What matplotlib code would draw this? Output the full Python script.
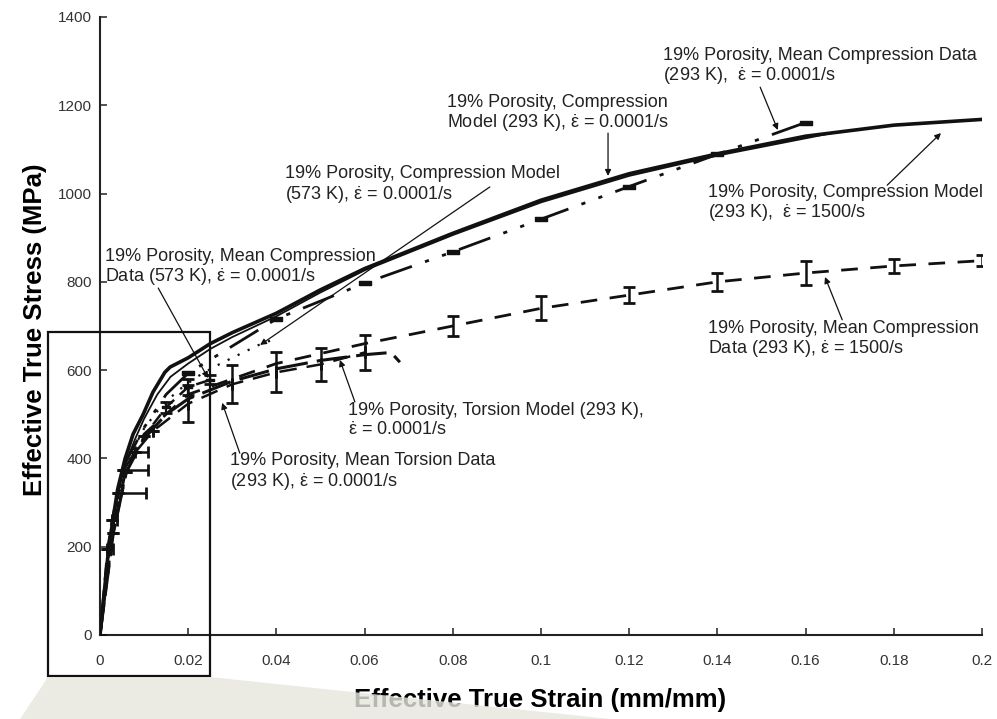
import matplotlib
matplotlib.use("Agg")
import matplotlib.pyplot as plt
from matplotlib.patches import Rectangle, Polygon
from matplotlib.markers import MarkerStyle
from matplotlib.path import Path

plt.rcParams["font.family"] = ["Liberation Sans", "DejaVu Sans"]
plt.rcParams["mathtext.fontset"] = "custom"
plt.rcParams["mathtext.rm"] = "Liberation Sans"
plt.rcParams["mathtext.it"] = "Liberation Sans"

# compression model, 293 K, 1500/s
model_1500_strain = [0, 0.002, 0.004, 0.0057, 0.0075, 0.0098, 0.012, 0.0147, 0.0159, 0.020, 0.025,
                     0.030, 0.040, 0.050, 0.060, 0.080, 0.100, 0.120, 0.140, 0.160, 0.180, 0.200]
model_1500_stress = [0, 200, 330, 400, 455, 500, 550, 595, 607, 628, 660,
                     685, 729, 782, 830, 910, 985, 1045, 1090, 1130, 1155, 1168]

# compression model, 293 K, 0.0001/s
model_293_strain = [0, 0.002, 0.004, 0.006, 0.008, 0.010, 0.013, 0.016, 0.020, 0.025, 0.030,
                    0.040, 0.050, 0.060, 0.080, 0.100, 0.120, 0.140, 0.166]
model_293_stress = [0, 195, 320, 395, 445, 490, 545, 585, 615, 648, 675,
                    722, 776, 826, 906, 980, 1040, 1086, 1137]

# compression model, 573 K, 0.0001/s
model_573_strain = [0, 0.002, 0.004, 0.006, 0.008, 0.010, 0.014, 0.018, 0.022, 0.026, 0.030, 0.036, 0.040]
model_573_stress = [0, 180, 310, 380, 430, 468, 520, 556, 585, 608, 628, 657, 672]

# mean compression data, 293 K, 0.0001/s
comp_293_strain = [0, 0.003, 0.006, 0.010, 0.015, 0.020, 0.040, 0.060, 0.080, 0.100, 0.120, 0.140, 0.160]
comp_293_stress = [0, 250, 395, 470, 545, 593, 716, 797, 868, 942, 1016, 1089, 1161]
comp_293_marked = [5, 6, 7, 8, 9, 10, 11, 12]

# mean compression data, 293 K, 1500/s
comp_1500_strain = [0, 0.003, 0.006, 0.010, 0.020, 0.040, 0.060, 0.080, 0.100, 0.120, 0.140, 0.160, 0.180, 0.200]
comp_1500_stress = [0, 240, 380, 455, 545, 615, 660, 700, 740, 770, 800, 820, 836, 848]
comp_1500_bar_strain = [0.080, 0.100, 0.120, 0.140, 0.160, 0.180, 0.200]
comp_1500_bar_stress = [700, 740, 770, 800, 820, 836, 848]
comp_1500_bar_err = [22, 27, 18, 20, 27, 15, 13]

# mean compression data, 573 K, 0.0001/s
comp_573_strain = [0, 0.003, 0.006, 0.010, 0.015, 0.020, 0.025]
comp_573_stress = [0, 230, 370, 450, 516, 562, 578]
comp_573_err = [0, 0, 0, 0, 12, 18, 10]

# torsion model, 293 K, 0.0001/s
torsion_model_strain = [0, 0.003, 0.006, 0.010, 0.015, 0.020, 0.030, 0.040, 0.050, 0.060, 0.066, 0.068]
torsion_model_stress = [0, 230, 370, 445, 500, 535, 575, 603, 622, 635, 640, 618]

# mean torsion data, 293 K, 0.0001/s
torsion_strain = [0, 0.0017, 0.0027, 0.0040, 0.0053, 0.0080, 0.012, 0.020, 0.030, 0.040, 0.050, 0.060]
torsion_stress = [0, 194, 260, 322, 373, 414, 462, 524, 568, 595, 613, 640]
torsion_xerr_hi = [0, 0.0012, 0.0012, 0.0065, 0.0055, 0.0028, 0, 0, 0, 0, 0, 0]
torsion_yerr = [0, 0, 0, 0, 0, 0, 0, 42, 43, 45, 37, 40]

xticks = [0, 0.02, 0.04, 0.06, 0.08, 0.1, 0.12, 0.14, 0.16, 0.18, 0.2]
xticklabels = ["0", "0.02", "0.04", "0.06", "0.08", "0.1", "0.12", "0.14", "0.16", "0.18", "0.2"]
yticks = [0, 200, 400, 600, 800, 1000, 1200, 1400]

INK = "#111111"
EPS = r"$\dot{\mathrm{\varepsilon}}$"

fig = plt.figure(figsize=(9.97, 7.19), dpi=100)
ax = fig.add_axes([100 / 997, 1 - 635 / 719, 882 / 997, 618 / 719])

bar = MarkerStyle(Path([(-1.6, -0.55), (1.6, -0.55), (1.6, 0.55), (-1.6, 0.55), (-1.6, -0.55)]))

ax.plot(model_1500_strain, model_1500_stress, color=INK, lw=2.6, zorder=5)
ax.plot(model_293_strain, model_293_stress, color=INK, lw=1.3, zorder=5)
ax.plot(model_573_strain, model_573_stress, color=INK, lw=1.6, ls=(0, (1, 4)), zorder=4)
ax.plot(comp_293_strain, comp_293_stress, color=INK, lw=2.0, ls=(0, (12, 5, 1.5, 5, 1.5, 5)),
        marker=bar, markevery=comp_293_marked, ms=9, mfc=INK, mec=INK, zorder=4)
ax.plot(comp_1500_strain, comp_1500_stress, color=INK, lw=2.0, ls=(0, (6, 4.5)), zorder=3)
ax.errorbar(comp_1500_bar_strain, comp_1500_bar_stress, yerr=comp_1500_bar_err, fmt="none",
            ecolor=INK, elinewidth=1.8, capsize=4, capthick=2, zorder=3)
ax.errorbar(comp_573_strain, comp_573_stress, yerr=comp_573_err, color=INK, lw=1.8,
            ls=(0, (5, 3)), marker=bar, markevery=[4, 5, 6], ms=6, elinewidth=1.6,
            capsize=4, capthick=2, zorder=3)
ax.plot(torsion_model_strain, torsion_model_stress, color=INK, lw=2.2, ls=(0, (10, 3)), zorder=3)
ax.errorbar(torsion_strain, torsion_stress, xerr=[[0] * len(torsion_strain), torsion_xerr_hi],
            yerr=torsion_yerr, color=INK, lw=1.8, ls=(0, (7, 4)), elinewidth=1.8,
            capsize=4, capthick=2, zorder=3)

ax.set_xlim(0, 0.2)
ax.set_ylim(0, 1400)
ax.set_xticks(xticks)
ax.set_xticklabels(xticklabels)
ax.set_yticks(yticks)
ax.tick_params(direction="in", length=5, width=1.2, labelsize=11, colors="#333333")
ax.tick_params(axis="x", pad=14)
ax.tick_params(axis="y", pad=6)
for sp in ["top", "right"]:
    ax.spines[sp].set_visible(False)
for sp in ["left", "bottom"]:
    ax.spines[sp].set_linewidth(1.5)
    ax.spines[sp].set_color("#222222")
ax.set_xlabel("Effective True Strain (mm/mm)", fontsize=18.5, fontweight="bold", va="center")
ax.set_ylabel("Effective True Stress (MPa)", fontsize=18.5, fontweight="bold", va="center")
ax.xaxis.set_label_coords(0.499, -0.105)
ax.yaxis.set_label_coords(-0.074, 0.494)

notes = [
    ("19% Porosity, Mean Compression Data\n(293 K),  " + EPS + " = 0.0001/s",
     (0.1277, 1286), (0.1497, 1241), (0.1537, 1144)),
    ("19% Porosity, Compression\nModel (293 K), " + EPS + " = 0.0001/s",
     (0.0787, 1181), (0.1152, 1137), (0.1152, 1040)),
    ("19% Porosity, Compression Model\n(573 K), " + EPS + " = 0.0001/s",
     (0.0420, 1018), (0.0884, 1015), (0.0363, 657)),
    ("19% Porosity, Mean Compression\nData (573 K), " + EPS + " = 0.0001/s",
     (0.0011, 832), (0.0132, 786), (0.0245, 582)),
    ("19% Porosity, Compression Model\n(293 K),  " + EPS + " = 1500/s",
     (0.1379, 977), (0.1785, 1019), (0.1907, 1137)),
    ("19% Porosity, Mean Compression\nData (293 K), " + EPS + " = 1500/s",
     (0.1379, 669), (0.1683, 714), (0.1644, 811)),
    ("19% Porosity, Torsion Model (293 K),\n" + EPS + " = 0.0001/s",
     (0.0562, 486), (0.0578, 528), (0.0544, 623)),
    ("19% Porosity, Mean Torsion Data\n(293 K), " + EPS + " = 0.0001/s",
     (0.0295, 368), (0.0317, 412), (0.0277, 526)),
]
for text, pos, tail, head in notes:
    ax.text(pos[0], pos[1], text, fontsize=13, color="#222222", ha="left", va="center",
            linespacing=1.12, zorder=6)
    ax.annotate("", xy=head, xytext=tail,
                arrowprops=dict(arrowstyle="-|>", lw=0.9, color=INK, mutation_scale=9,
                                shrinkA=0, shrinkB=0), zorder=6)

# zoom box around the elastic region, with its shaded projection underneath
ax.add_patch(Rectangle((-0.0118, -93), 0.0367, 780, fill=False, lw=1.6, ec=INK,
                       clip_on=False, zorder=7))
fig.add_artist(Polygon([(48 / 997, 1 - 677 / 719), (210 / 997, 1 - 677 / 719),
                        (610 / 997, 0), (20 / 997, 0)], closed=True,
                       transform=fig.transFigure, fc="#e6e6de", ec="none", alpha=0.8, zorder=8))

fig.savefig("out.png", dpi=100, facecolor="white")
